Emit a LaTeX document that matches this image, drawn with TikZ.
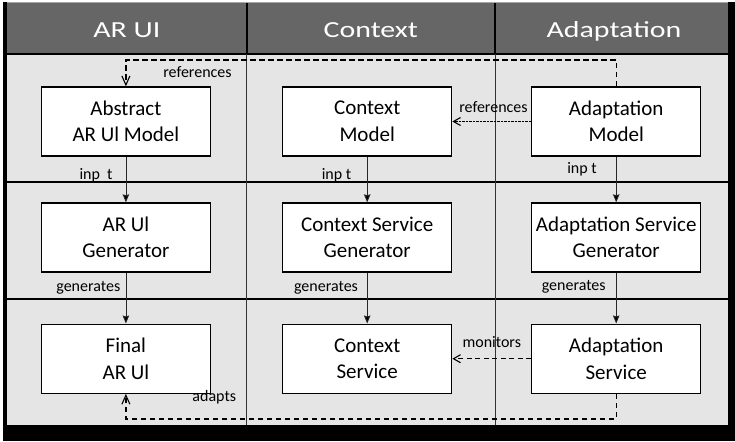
\documentclass[tikz,border=0pt]{standalone}
\usepackage{fontspec}
\setmainfont{Carlito}
\newfontfamily\headfont[FakeStretch=1.3]{Carlito}
\usetikzlibrary{arrows.meta}
\begin{document}
\begin{tikzpicture}[x=1pt,y=-1pt,
  box/.style={draw=black, line width=1.4pt, fill=white, minimum width=169pt, minimum height=69pt, inner sep=2pt, align=center, font=\fontsize{21}{26.5}\selectfont},
  lbl/.style={font=\fontsize{16}{19}\selectfont, inner sep=0pt, text=black},
  head/.style={text=white, anchor=base, inner sep=0pt, font=\headfont\fontsize{23}{27}\selectfont},
  flow/.style={draw=black!85, line width=0.8pt, -{Stealth[length=8pt,width=6.5pt,inset=1pt,fill=black]}},
  refl/.style={draw=black, line width=1.3pt, dash pattern=on 5.5pt off 3.5pt, -{Straight Barb[length=9pt,width=8pt,line width=1.1pt]}},
  dotl/.style={draw=black, line width=0.6pt, dash pattern=on 0.8pt off 0.6pt, -{Straight Barb[length=7pt,width=8pt,line width=1.1pt]}},
  monl/.style={draw=black, line width=1pt, dash pattern=on 5pt off 3.5pt, -{Straight Barb[length=7pt,width=8pt,line width=1.1pt]}}
]
\useasboundingbox (0,0) rectangle (735,441);
% frame and background
\fill[white] (0,0) rectangle (735,441);
\fill[black] (3,2.5) rectangle (735,441);
\fill[black!10] (7,54) rectangle (727.7,425);
\fill[black!60] (7,3) rectangle (727.7,54);
\draw[black!35, line width=0.8pt] (7,2.8) -- (727.7,2.8);
% grid lines
\draw[line width=2pt] (7,54) -- (727.7,54);
\draw[line width=1.8pt] (7,181.7) -- (727.7,181.7);
\draw[line width=1.8pt] (7,299) -- (727.7,299);
\draw[line width=1.6pt] (246.7,3) -- (246.7,54);
\draw[line width=1.6pt] (495,3) -- (495,54);
\draw[line width=0.8pt, black!80] (246.7,54) -- (246.7,425);
\draw[line width=0.8pt, black!80] (495,54) -- (495,425);
% headers
\node[head] (h1) at (126.8,37.3) {AR UI};
\node[head] (h2) at (370.8,37.3) {Context};
\node[head] (h3) at (614,37.3) {Adaptation};
% boxes
\node[box] (ab) at (125.9,121.5) {Abstract\\AR Ul Model};
\node[box] (cm) at (367.2,121.5) {Context\\Model};
\node[box] (am) at (616.2,121.5) {Adaptation\\Model};
\node[box] (ag) at (125.9,237.5) {AR Ul\\Generator};
\node[box] (cg) at (367.2,237.5) {Context Service\\Generator};
\node[box] (sg) at (616.2,237.5) {Adaptation Service\\Generator};
\node[box] (fa) at (125.9,358.7) {Final\\AR Ul};
\node[box] (cs) at (367.2,358.7) {Context\\Service};
\node[box] (as) at (616.2,358.7) {Adaptation\\Service};
% vertical flows
\draw[flow] (ab.south) -- (ag.north);
\draw[flow] (cm.south) -- (cg.north);
\draw[flow] (am.south) -- (sg.north);
\draw[flow] (ag.south) -- (fa.north);
\draw[flow] (cg.south) -- (cs.north);
\draw[flow] (sg.south) -- (as.north);
% dashed routes
\draw[refl] (am.north) -- ++(0,-26.3) -| (ab.north);
\draw[refl] (as.south) -- ++(0,25) -| (fa.south);
\draw[dotl] (am.west) -- (cm.east);
\draw[monl] (as.west) -- (cs.east);
% labels
\node[lbl] (l1) at (197.5,72) {references};
\node[lbl] (l2) at (493.5,107) {references};
\node[lbl] (l3) at (491.8,342.5) {monitors};
\node[lbl] (l4) at (214.3,397) {adapts};
\node[lbl] (i1) at (96,175) {inp\hspace{7pt}t};
\node[lbl] (i2) at (336.5,175) {inp t};
\node[lbl] (i3) at (582,169.5) {inp t};
\node[lbl] (g1) at (88.3,287.5) {generates};
\node[lbl] (g2) at (326,287.5) {generates};
\node[lbl] (g3) at (573.7,287) {generates};
\end{tikzpicture}
\end{document}
